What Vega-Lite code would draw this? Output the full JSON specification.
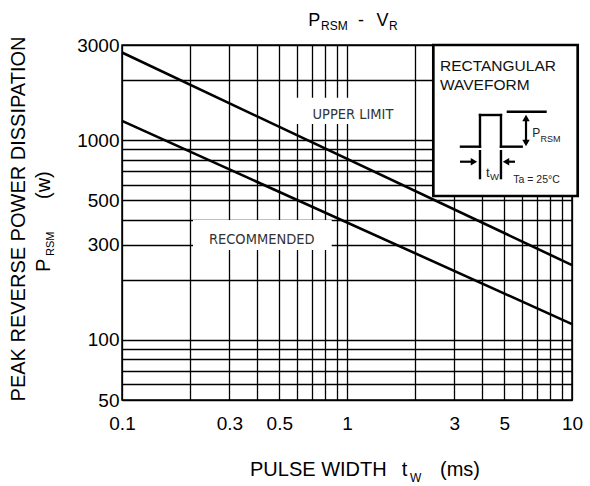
{
  "$schema": "https://vega.github.io/schema/vega-lite/v6.json",
  "width": 450,
  "height": 355,
  "autosize": {"type": "none"},
  "padding": {"left": 122, "top": 45, "right": 18, "bottom": 86},
  "background": "white",
  "config": {
    "view": {"stroke": "black", "strokeWidth": 1.5},
    "font": "Liberation Sans",
    "text": {"font": "Liberation Sans", "color": "black"},
    "rule": {"color": "black", "strokeWidth": 2.4}
  },
  "datasets": {
    "curves": [
      {"series": "UPPER LIMIT", "tw": 0.1, "p": 2750},
      {"series": "UPPER LIMIT", "tw": 10, "p": 237},
      {"series": "RECOMMENDED", "tw": 0.1, "p": 1250},
      {"series": "RECOMMENDED", "tw": 10, "p": 120}
    ],
    "one": [{"k": 1}]
  },
  "data": {"name": "curves"},
  "layer": [
    {
      "mark": {"type": "line", "strokeWidth": 2.6, "color": "black"},
      "encoding": {
        "x": {
          "field": "tw", "type": "quantitative", "title": null,
          "scale": {"type": "log", "domain": [0.1, 10], "nice": false},
          "axis": {
            "values": [0.1, 0.2, 0.3, 0.4, 0.5, 0.6, 0.7, 0.8, 0.9, 1, 2, 3, 4, 5, 6, 7, 8, 9, 10],
            "grid": true, "gridColor": "black", "gridOpacity": 1, "gridWidth": 1.3,
            "ticks": false, "tickSize": 0, "domain": false,
            "format": "~g",
            "labelExpr": "indexof([0.1,0.3,0.5,1,3,5,10], datum.value) >= 0 ? datum.label : ''",
            "labelFont": "Liberation Sans", "labelFontSize": 19, "labelColor": "black",
            "labelPadding": 14, "labelFlush": false, "labelOverlap": false
          }
        },
        "y": {
          "field": "p", "type": "quantitative", "title": null,
          "scale": {"type": "log", "domain": [50, 3000], "nice": false},
          "axis": {
            "values": [50, 60, 70, 80, 90, 100, 200, 300, 400, 500, 600, 700, 800, 900, 1000, 2000, 3000],
            "grid": true, "gridColor": "black", "gridOpacity": 1, "gridWidth": 1.3,
            "ticks": false, "tickSize": 0, "domain": false,
            "format": "~g",
            "labelExpr": "indexof([50,100,300,500,1000,3000], datum.value) >= 0 ? datum.label : ''",
            "labelFont": "Liberation Sans", "labelFontSize": 19, "labelColor": "black",
            "labelPadding": 3, "labelFlush": false, "labelOverlap": false
          }
        },
        "detail": {"field": "series"}
      }
    },
    {
      "data": {"name": "one"},
      "mark": {"type": "rect", "fill": "white", "stroke": null},
      "encoding": {
        "x": {"datum": 0.5412, "type": "quantitative"}, "x2": {"datum": 1.905},
        "y": {"datum": 1634, "type": "quantitative"}, "y2": {"datum": 1206}
      }
    },
    {
      "data": {"name": "one"},
      "mark": {"type": "text", "text": "UPPER LIMIT", "font": "Liberation Sans Narrow, Arial Narrow, DejaVu Sans Condensed, Liberation Sans", "fontSize": 14.5, "color": "#333333", "align": "center", "baseline": "alphabetic"},
      "encoding": {"x": {"datum": 1.063, "type": "quantitative"}, "y": {"datum": 1278, "type": "quantitative"}}
    },
    {
      "data": {"name": "one"},
      "mark": {"type": "rect", "fill": "white", "stroke": null},
      "encoding": {
        "x": {"datum": 0.2068, "type": "quantitative"}, "x2": {"datum": 0.8551},
        "y": {"datum": 398.7, "type": "quantitative"}, "y2": {"datum": 282}
      }
    },
    {
      "data": {"name": "one"},
      "mark": {"type": "text", "text": "RECOMMENDED", "font": "Liberation Sans Narrow, Arial Narrow, DejaVu Sans Condensed, Liberation Sans", "fontSize": 14.5, "color": "#333333", "align": "center", "baseline": "alphabetic"},
      "encoding": {"x": {"datum": 0.4178, "type": "quantitative"}, "y": {"datum": 301.2, "type": "quantitative"}}
    },
    {
      "data": {"name": "one"},
      "mark": {"type": "rect", "fill": "white", "stroke": "black", "strokeWidth": 2.7},
      "encoding": {
        "x": {"datum": 2.419, "type": "quantitative"}, "x2": {"datum": 10.6},
        "y": {"datum": 3000, "type": "quantitative"}, "y2": {"datum": 525.7}
      }
    },
    {
      "data": {"name": "one"},
      "mark": {"type": "text", "text": "RECTANGULAR", "fontSize": 15.5, "color": "#111111", "align": "left", "baseline": "alphabetic"},
      "encoding": {"x": {"datum": 2.59, "type": "quantitative"}, "y": {"datum": 2223, "type": "quantitative"}}
    },
    {
      "data": {"name": "one"},
      "mark": {"type": "text", "text": "WAVEFORM", "fontSize": 15.5, "color": "#111111", "align": "left", "baseline": "alphabetic"},
      "encoding": {"x": {"datum": 2.59, "type": "quantitative"}, "y": {"datum": 1785, "type": "quantitative"}}
    },
    {
      "data": {"name": "one"},
      "mark": {"type": "rule", "strokeCap": "square"},
      "encoding": {"x": {"datum": 3.211, "type": "quantitative"}, "x2": {"datum": 3.9}, "y": {"datum": 928.6, "type": "quantitative"}}
    },
    {
      "data": {"name": "one"},
      "mark": {"type": "rule", "strokeCap": "square"},
      "encoding": {"x": {"datum": 3.9, "type": "quantitative"}, "y": {"datum": 928.6, "type": "quantitative"}, "y2": {"datum": 1338}}
    },
    {
      "data": {"name": "one"},
      "mark": {"type": "rule", "strokeCap": "square"},
      "encoding": {"x": {"datum": 3.9, "type": "quantitative"}, "x2": {"datum": 4.834}, "y": {"datum": 1338, "type": "quantitative"}}
    },
    {
      "data": {"name": "one"},
      "mark": {"type": "rule", "strokeCap": "square"},
      "encoding": {"x": {"datum": 4.834, "type": "quantitative"}, "y": {"datum": 928.6, "type": "quantitative"}, "y2": {"datum": 1338}}
    },
    {
      "data": {"name": "one"},
      "mark": {"type": "rule", "strokeCap": "square"},
      "encoding": {"x": {"datum": 4.834, "type": "quantitative"}, "x2": {"datum": 5.976}, "y": {"datum": 928.6, "type": "quantitative"}}
    },
    {
      "data": {"name": "one"},
      "mark": {"type": "rule"},
      "encoding": {"x": {"datum": 5.126, "type": "quantitative"}, "x2": {"datum": 7.72}, "y": {"datum": 1390, "type": "quantitative"}}
    },
    {
      "data": {"name": "one"},
      "mark": {"type": "rule", "strokeWidth": 2.2},
      "encoding": {"x": {"datum": 6.246, "type": "quantitative"}, "y": {"datum": 1300, "type": "quantitative"}, "y2": {"datum": 960}}
    },
    {
      "data": {"name": "one"},
      "mark": {"type": "point", "shape": "triangle-up", "filled": true, "color": "black", "opacity": 1, "size": 55},
      "encoding": {"x": {"datum": 6.246, "type": "quantitative"}, "y": {"datum": 1293, "type": "quantitative"}}
    },
    {
      "data": {"name": "one"},
      "mark": {"type": "point", "shape": "triangle-down", "filled": true, "color": "black", "opacity": 1, "size": 55},
      "encoding": {"x": {"datum": 6.246, "type": "quantitative"}, "y": {"datum": 968.8, "type": "quantitative"}}
    },
    {
      "data": {"name": "one"},
      "mark": {"type": "rule"},
      "encoding": {"x": {"datum": 3.9, "type": "quantitative"}, "y": {"datum": 894, "type": "quantitative"}, "y2": {"datum": 637.5}}
    },
    {
      "data": {"name": "one"},
      "mark": {"type": "rule"},
      "encoding": {"x": {"datum": 4.834, "type": "quantitative"}, "y": {"datum": 894, "type": "quantitative"}, "y2": {"datum": 637.5}}
    },
    {
      "data": {"name": "one"},
      "mark": {"type": "rule", "strokeWidth": 2.2},
      "encoding": {"x": {"datum": 3.178, "type": "quantitative"}, "x2": {"datum": 3.593}, "y": {"datum": 780.8, "type": "quantitative"}}
    },
    {
      "data": {"name": "one"},
      "mark": {"type": "point", "shape": "triangle-right", "filled": true, "color": "black", "opacity": 1, "size": 55},
      "encoding": {"x": {"datum": 3.667, "type": "quantitative"}, "y": {"datum": 780.8, "type": "quantitative"}}
    },
    {
      "data": {"name": "one"},
      "mark": {"type": "rule", "strokeWidth": 2.2},
      "encoding": {"x": {"datum": 5.58, "type": "quantitative"}, "x2": {"datum": 5.089}, "y": {"datum": 780.8, "type": "quantitative"}}
    },
    {
      "data": {"name": "one"},
      "mark": {"type": "point", "shape": "triangle-left", "filled": true, "color": "black", "opacity": 1, "size": 55},
      "encoding": {"x": {"datum": 5.089, "type": "quantitative"}, "y": {"datum": 780.8, "type": "quantitative"}}
    },
    {
      "data": {"name": "one"},
      "mark": {"type": "text", "text": "P", "fontSize": 12, "color": "#222222", "align": "left", "baseline": "alphabetic"},
      "encoding": {"x": {"datum": 6.661, "type": "quantitative"}, "y": {"datum": 1042, "type": "quantitative"}}
    },
    {
      "data": {"name": "one"},
      "mark": {"type": "text", "text": "RSM", "fontSize": 9, "color": "#222222", "align": "left", "baseline": "alphabetic"},
      "encoding": {"x": {"datum": 7.244, "type": "quantitative"}, "y": {"datum": 983.3, "type": "quantitative"}}
    },
    {
      "data": {"name": "one"},
      "mark": {"type": "text", "text": "t", "fontSize": 13, "color": "#222222", "align": "left", "baseline": "alphabetic"},
      "encoding": {"x": {"datum": 4.147, "type": "quantitative"}, "y": {"datum": 654.6, "type": "quantitative"}}
    },
    {
      "data": {"name": "one"},
      "mark": {"type": "text", "text": "W", "fontSize": 9.5, "color": "#222222", "align": "left", "baseline": "alphabetic"},
      "encoding": {"x": {"datum": 4.32, "type": "quantitative"}, "y": {"datum": 632.3, "type": "quantitative"}}
    },
    {
      "data": {"name": "one"},
      "mark": {"type": "text", "text": "Ta = 25°C", "fontSize": 10.5, "color": "#222222", "align": "left", "baseline": "alphabetic"},
      "encoding": {"x": {"datum": 5.483, "type": "quantitative"}, "y": {"datum": 608.7, "type": "quantitative"}}
    },
    {
      "data": {"name": "one"},
      "mark": {"type": "text", "text": "P", "fontSize": 18, "align": "left", "baseline": "alphabetic"},
      "encoding": {"x": {"datum": 0.673, "type": "quantitative"}, "y": {"datum": 3735, "type": "quantitative"}}
    },
    {
      "data": {"name": "one"},
      "mark": {"type": "text", "text": "RSM", "fontSize": 12, "align": "left", "baseline": "alphabetic"},
      "encoding": {"x": {"datum": 0.7664, "type": "quantitative"}, "y": {"datum": 3567, "type": "quantitative"}}
    },
    {
      "data": {"name": "one"},
      "mark": {"type": "text", "text": "-", "fontSize": 18, "align": "left", "baseline": "alphabetic"},
      "encoding": {"x": {"datum": 1.119, "type": "quantitative"}, "y": {"datum": 3735, "type": "quantitative"}}
    },
    {
      "data": {"name": "one"},
      "mark": {"type": "text", "text": "V", "fontSize": 18, "align": "left", "baseline": "alphabetic"},
      "encoding": {"x": {"datum": 1.352, "type": "quantitative"}, "y": {"datum": 3735, "type": "quantitative"}}
    },
    {
      "data": {"name": "one"},
      "mark": {"type": "text", "text": "R", "fontSize": 12, "align": "left", "baseline": "alphabetic"},
      "encoding": {"x": {"datum": 1.537, "type": "quantitative"}, "y": {"datum": 3567, "type": "quantitative"}}
    },
    {
      "data": {"name": "one"},
      "mark": {"type": "text", "text": "PULSE WIDTH", "fontSize": 20, "align": "left", "baseline": "alphabetic"},
      "encoding": {"x": {"datum": 0.3707, "type": "quantitative"}, "y": {"datum": 20.82, "type": "quantitative"}}
    },
    {
      "data": {"name": "one"},
      "mark": {"type": "text", "text": "t", "fontSize": 20, "align": "left", "baseline": "alphabetic"},
      "encoding": {"x": {"datum": 1.75, "type": "quantitative"}, "y": {"datum": 20.82, "type": "quantitative"}}
    },
    {
      "data": {"name": "one"},
      "mark": {"type": "text", "text": "W", "fontSize": 12, "align": "left", "baseline": "alphabetic"},
      "encoding": {"x": {"datum": 1.905, "type": "quantitative"}, "y": {"datum": 19.5, "type": "quantitative"}}
    },
    {
      "data": {"name": "one"},
      "mark": {"type": "text", "text": "(ms)", "fontSize": 20, "align": "left", "baseline": "alphabetic"},
      "encoding": {"x": {"datum": 2.59, "type": "quantitative"}, "y": {"datum": 20.82, "type": "quantitative"}}
    },
    {
      "data": {"name": "one"},
      "mark": {"type": "text", "text": "PEAK REVERSE  POWER DISSIPATION", "fontSize": 20, "angle": 270, "align": "center", "baseline": "alphabetic"},
      "encoding": {"x": {"datum": 0.03707, "type": "quantitative"}, "y": {"datum": 403.3, "type": "quantitative"}}
    },
    {
      "data": {"name": "one"},
      "mark": {"type": "text", "text": "P", "fontSize": 20, "angle": 270, "align": "left", "baseline": "alphabetic"},
      "encoding": {"x": {"datum": 0.04786, "type": "quantitative"}, "y": {"datum": 218.9, "type": "quantitative"}}
    },
    {
      "data": {"name": "one"},
      "mark": {"type": "text", "text": "RSM", "fontSize": 11, "angle": 270, "align": "left", "baseline": "alphabetic"},
      "encoding": {"x": {"datum": 0.04961, "type": "quantitative"}, "y": {"datum": 263.2, "type": "quantitative"}}
    },
    {
      "data": {"name": "one"},
      "mark": {"type": "text", "text": "(w)", "fontSize": 20, "angle": 270, "align": "left", "baseline": "alphabetic"},
      "encoding": {"x": {"datum": 0.04786, "type": "quantitative"}, "y": {"datum": 507.7, "type": "quantitative"}}
    }
  ]
}
